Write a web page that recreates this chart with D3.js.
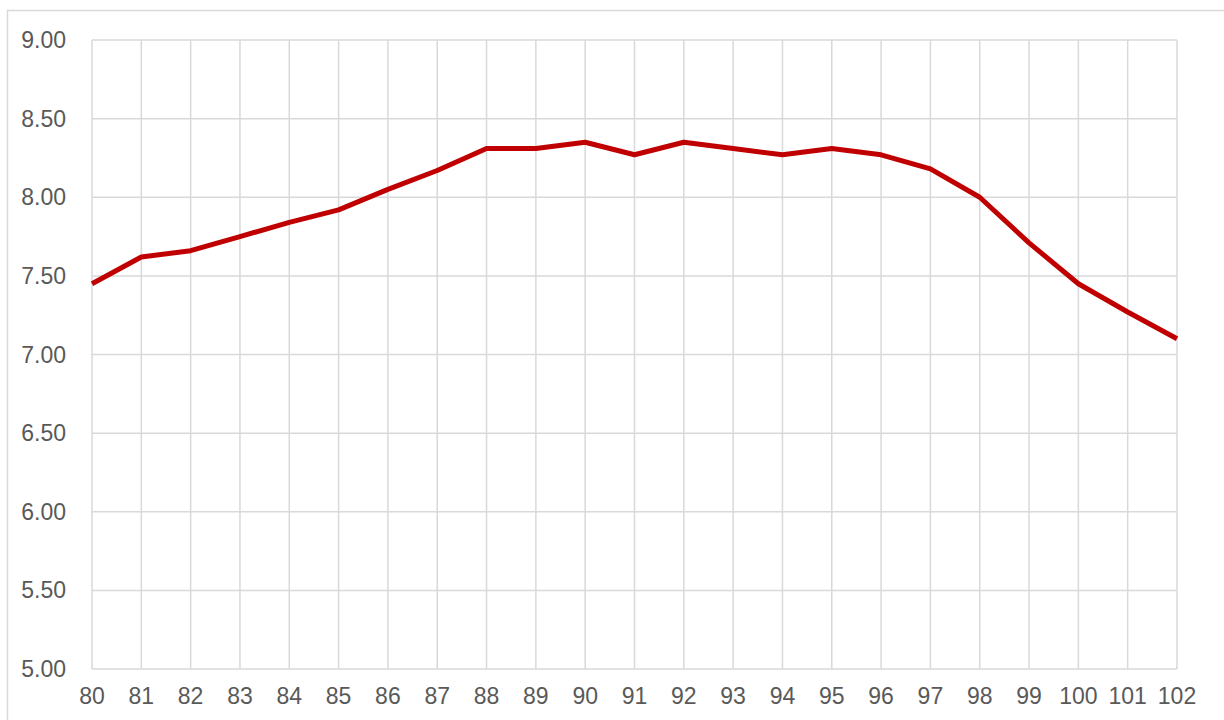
<!DOCTYPE html>
<html>
<head>
<meta charset="utf-8">
<script src="https://cdnjs.cloudflare.com/ajax/libs/d3/7.8.5/d3.min.js"></script>
<style>
  body { margin: 0; background: #fff; }
  svg text { font-family: "Liberation Sans", Arial, sans-serif; fill: #595959; }
</style>
</head>
<body>
<div id="chart"></div>
<script>
// years on the x axis and the values
var years = [80,81,82,83,84,85,86,87,88,89,90,91,92,93,94,95,96,97,98,99,100,101,102];
var values = [7.45,7.62,7.66,7.75,7.84,7.92,8.05,8.17,8.31,8.31,8.35,8.27,8.35,8.31,8.27,8.31,8.27,8.18,8.00,7.71,7.45,7.27,7.10];
var yTicks = [5.00,5.50,6.00,6.50,7.00,7.50,8.00,8.50,9.00];

var W = 1224, H = 720;
var plotLeft = 92, plotRight = 1177, plotTop = 40, plotBottom = 669;

var svg = d3.select("#chart").append("svg")
	.attr("width", W)
	.attr("height", H);

// chart area border
svg.append("rect")
	.attr("x", 7.5).attr("y", 10.5)
	.attr("width", W + 20).attr("height", H + 20)
	.attr("fill", "none")
	.attr("stroke", "#d9d9d9")
	.attr("stroke-width", 1.5);

var x = d3.scaleLinear().domain([80, 102]).range([plotLeft, plotRight]);
var y = d3.scaleLinear().domain([5, 9]).range([plotBottom, plotTop]);

// horizontal grid
svg.append("g").selectAll("line").data(yTicks).enter().append("line")
	.attr("x1", plotLeft).attr("x2", plotRight)
	.attr("y1", function(d){ return y(d); })
	.attr("y2", function(d){ return y(d); })
	.attr("stroke", "#d9d9d9")
	.attr("stroke-width", 1.5);

// vertical grid
svg.append("g").selectAll("line").data(years).enter().append("line")
	.attr("x1", function(d){ return x(d); })
	.attr("x2", function(d){ return x(d); })
	.attr("y1", plotTop).attr("y2", plotBottom)
	.attr("stroke", "#d9d9d9")
	.attr("stroke-width", 1.5);

// y labels
svg.append("g").selectAll("text").data(yTicks).enter().append("text")
	.attr("x", 66)
	.attr("y", function(d){ return y(d); })
	.attr("dy", "0.35em")
	.attr("text-anchor", "end")
	.attr("font-size", "23px")
	.text(function(d){ return d3.format(".2f")(d); });

// x labels
svg.append("g").selectAll("text").data(years).enter().append("text")
	.attr("x", function(d){ return x(d); })
	.attr("y", 696)
	.attr("dy", "0.35em")
	.attr("text-anchor", "middle")
	.attr("font-size", "23px")
	.text(function(d){ return d; });

var line = d3.line()
	.x(function(d, i){ return x(years[i]); })
	.y(function(d){ return y(d); });

svg.append("path")
	.datum(values)
	.attr("d", line)
	.attr("fill", "none")
	.attr("stroke", "#c00000")
	.attr("stroke-width", 5)
	.attr("stroke-linejoin", "round");
</script>
</body>
</html>
